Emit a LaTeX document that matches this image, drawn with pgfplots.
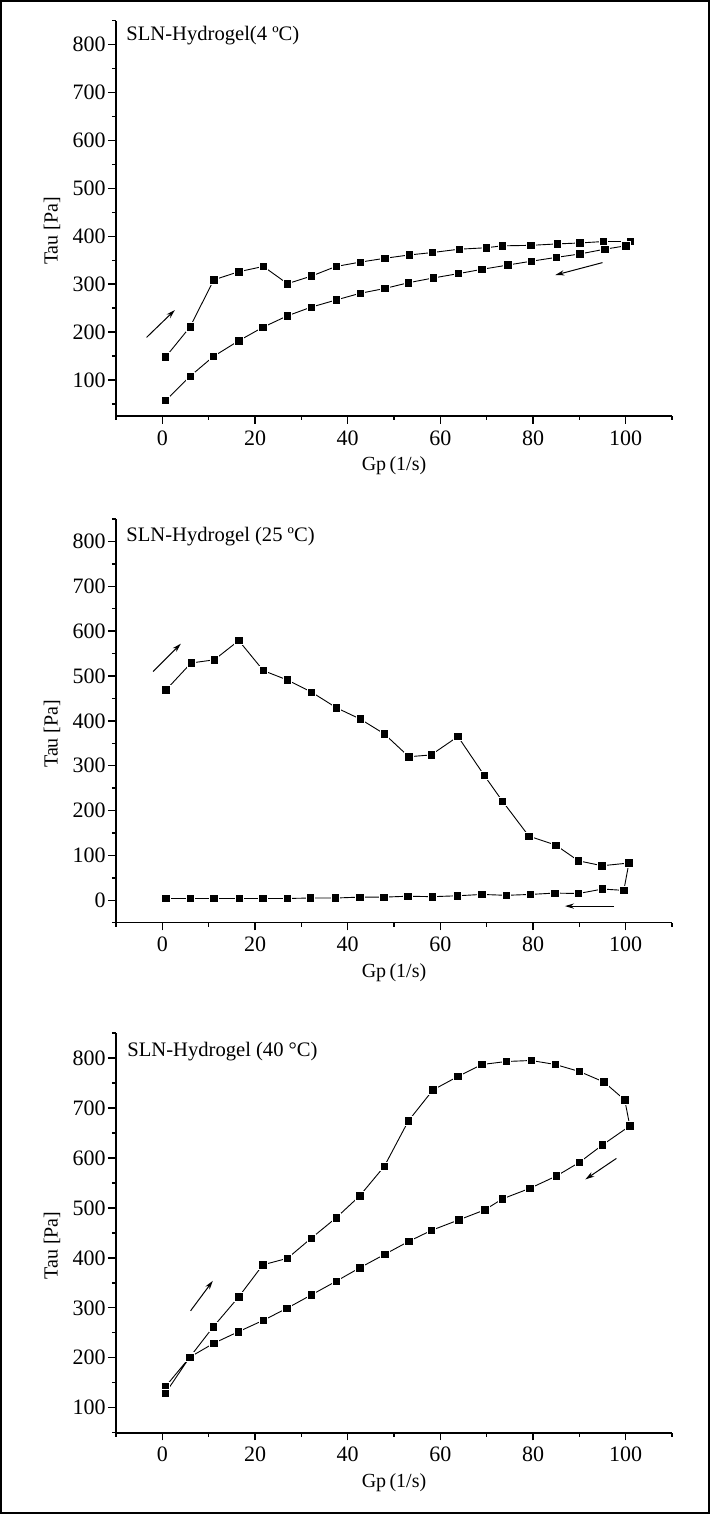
\documentclass[border=0pt]{standalone}
\usepackage{fontspec}
\setmainfont{Liberation Serif}
\usepackage{pgfplots}
\pgfplotsset{compat=1.18}
\usetikzlibrary{arrows.meta}
\tikzset{
 arr/.style={line width=0.5pt, -{Stealth[length=4.5pt,width=2.6pt]}},
 ttl/.style={anchor=north west, inner sep=0pt, font=\fontsize{10.3}{12}\selectfont},
}
\pgfplotsset{
 panel/.style={
  scale only axis, width=278pt,
  xmin=-10, xmax=110,
  axis x line*=bottom, axis y line*=left,
  axis line style={line width=0.8pt,-},
  xtick={0,20,...,100}, minor xtick={-10,10,...,110},
  ytick={0,100,...,800}, minor ytick={-50,50,...,850},
  tick align=outside,
  major tick length=3.8pt, minor tick length=2pt,
  every tick/.style={line width=0.7pt, black},
  tick label style={font=\fontsize{11}{13}\selectfont},
  yticklabel style={inner sep=1.2pt},
  /pgf/number format/assume math mode=true,
  xlabel={Gp\,(1/s)}, ylabel={Tau [Pa]},
  label style={font=\fontsize{10.5}{12}\selectfont},
  every axis x label/.style={at={(axis description cs:0.5,0)}, yshift=-25pt, anchor=center},
  every axis y label/.style={at={(axis description cs:-0.115,0.468)}, rotate=90, anchor=center},
  clip=false,
 },
 ser/.style={black, line width=0.45pt, mark=square*, mark size=2.1pt,
   mark options={fill=black, draw=white, line width=0.35pt}},
}
\begin{document}
\begin{tikzpicture}
\useasboundingbox (0,0) rectangle (355pt,757pt);
\draw[line width=1.2pt] (0.6pt,0.6pt) rectangle (354.4pt,756.4pt);

% Panel 1: 4 C
\begin{axis}[panel, at={(58pt,549pt)}, anchor=south west, height=197.7pt, ymin=25, ymax=850]
\addplot[ser] coordinates {
(0.7,148) (6,211) (11.1,309) (16.5,326) (21.8,337) (27,301) (32.2,317) (37.5,337)
(42.7,346) (48,354) (53.3,361) (58.3,366) (64.1,373) (69.9,376) (73.4,380) (79.5,381)
(85.2,384) (90.1,386) (95.2,389) (101,389)
(100,380) (95.5,373) (90.1,363) (85.1,356) (79.7,348) (74.6,340) (69,331) (63.9,322)
(58.5,313) (53.1,303) (48,291) (42.7,281) (37.5,267) (32.1,252) (27,234) (21.7,210)
(16.5,182) (11,149) (6,108) (0.7,57)
};
\draw[arr] (axis cs:-3.4,189) -- (axis cs:2.7,246);
\draw[arr] (axis cs:95,345) -- (axis cs:84.8,319);
\node[ttl, xshift=5pt, yshift=-2.7pt] at (rel axis cs:0,1) {SLN-Hydrogel(4 ºC)};
\end{axis}

% Panel 2: 25 C
\begin{axis}[panel, at={(58pt,295.65pt)}, anchor=south west, height=201.85pt, ymin=-50, ymax=850]
\addplot[ser] coordinates {
(0.8,469) (6.2,529) (11.2,536) (16.5,579) (21.8,512) (27,491) (32.2,464) (37.6,429)
(42.7,404) (47.9,371) (53.2,320) (58,324) (63.8,365) (69.5,278) (73.4,221) (79.1,143)
(84.9,123) (89.8,88) (94.9,77) (100.7,83)
(99.6,22) (95,25) (89.8,15) (84.7,16) (79.4,13) (74.2,11) (69,13) (63.7,10)
(58.3,8) (53,9) (47.8,7) (42.6,7) (37.4,5) (32,5) (27,4) (21.7,4)
(16.6,4) (11.1,4) (6.1,4) (0.8,4)
};
\draw[arr] (axis cs:-2,510) -- (axis cs:4,572);
\draw[arr] (axis cs:97.5,-13) -- (axis cs:86.9,-13);
\node[ttl, xshift=5pt, yshift=-4pt] at (rel axis cs:0,1) {SLN-Hydrogel (25 ºC)};
\end{axis}

% Panel 3: 40 C
\begin{axis}[panel, at={(58pt,40.65pt)}, anchor=south west, height=199.85pt, ymin=50, ymax=850]
\addplot[ser] coordinates {
(0.66,142) (6,202) (11,262) (16.5,322) (21.7,386) (27,399) (32.1,439) (37.5,480)
(42.6,524) (47.9,583) (53.1,674) (58.4,736) (63.8,763) (69,787) (74.3,793) (79.6,795)
(84.8,787) (90,773) (95.3,752) (99.8,716) (100.9,664)
(95,626) (90,591) (85.1,564) (79.3,539) (73.4,518) (69.6,496) (64,476) (58.1,455)
(53.2,433) (48,407) (42.6,380) (37.5,353) (32.2,326) (26.9,299) (21.8,275) (16.4,252)
(11.1,229) (5.9,201) (0.66,129)
};
\draw[arr] (axis cs:6.1,294) -- (axis cs:10.9,354);
\draw[arr] (axis cs:98,599) -- (axis cs:91.3,557);
\node[ttl, xshift=5.5pt, yshift=-4.5pt] at (rel axis cs:0,1) {SLN-Hydrogel (40 °C)};
\end{axis}
\end{tikzpicture}
\end{document}
